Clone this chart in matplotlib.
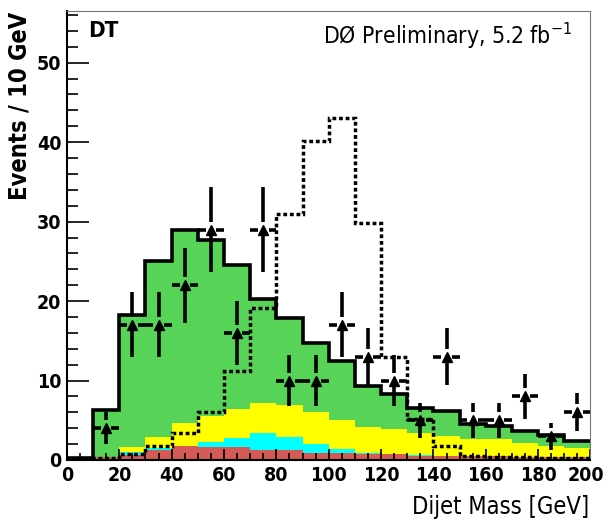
import matplotlib
matplotlib.use("Agg")
import matplotlib.pyplot as plt
import matplotlib.transforms as mtransforms
import numpy as np

plt.rcParams['font.family'] = ['DejaVu Sans']
plt.rcParams['font.stretch'] = 'condensed'

# bin edges, 10 GeV wide
edges = np.arange(0, 210, 10)

# stacked backgrounds (cumulative tops)
total  = [0.2, 6.3, 18.2, 25.0, 28.9, 27.7, 24.5, 20.3, 17.9, 14.7,
          12.4, 9.3, 8.3, 6.6, 6.2, 4.5, 4.3, 3.6, 3.1, 2.4]
yellow = [0.0, 0.3, 1.6, 2.9, 4.6, 5.5, 6.4, 7.2, 6.9, 6.0,
          5.0, 4.2, 3.9, 3.4, 3.0, 2.6, 2.6, 2.1, 1.8, 1.5]
cyan   = [0.0, 0.4, 1.05, 1.5, 1.8, 2.3, 2.8, 3.4, 2.9, 2.0,
          1.35, 0.85, 0.7, 0.6, 0.5, 0.45, 0.45, 0.4, 0.4, 0.4]
red    = [0.0, 0.4, 0.6, 1.3, 1.7, 1.6, 1.6, 1.25, 1.2, 0.9,
          0.85, 0.8, 0.7, 0.55, 0.5, 0.45, 0.45, 0.4, 0.4, 0.4]

# signal (dotted)
signal = [0.0, 0.3, 0.75, 1.7, 3.4, 6.1, 11.2, 19.1, 31.0, 40.1,
          43.1, 29.8, 13.0, 5.1, 1.8, 0.5, 0.4, 0.4, 0.3, 0.3]

# data points
data_x = [15, 25, 35, 45, 55, 65, 75, 85, 95, 105,
          115, 125, 135, 145, 155, 165, 175, 185, 195]
data_y = [4, 17, 17, 22, 29, 16, 29, 10, 10, 17,
          13, 10, 5, 13, 5, 5, 8, 3, 6]
data_err = [2.0, 4.1, 4.1, 4.7, 5.4, 4.0, 5.4, 3.2, 3.2, 4.1,
            3.6, 3.2, 2.2, 3.6, 2.2, 2.2, 2.8, 1.7, 2.4]

fig = plt.figure(figsize=(6.05, 5.26), dpi=100)
ax = fig.add_axes([0.1107, 0.1255, 0.8653, 0.8535])

ax.stairs(total, edges, baseline=0, fill=True, color="#57d357", lw=0)
ax.stairs(yellow, edges, baseline=0, fill=True, color="#ffff00", lw=0)
ax.stairs(cyan, edges, baseline=0, fill=True, color="#00ffff", lw=0)
ax.stairs(red, edges, baseline=0, fill=True, color="#d35a55", lw=0)
ax.stairs(total, edges, baseline=None, color="black", lw=2.6)
ax.stairs(signal, edges, baseline=None, color="black", lw=2.5,
          linestyle=(0, (1.1, 0.8)))

# data with gapped error bars
dx = np.array(data_x, dtype=float)
dy = np.array(data_y, dtype=float)
de = np.array(data_err)
gx, gy = 2.0, 1.0
ax.hlines(dy, dx - 5, dx - gx, color="black", lw=2.6)
ax.hlines(dy, dx + gx, dx + 5, color="black", lw=2.6)
ax.vlines(dx, dy + gy, dy + de, color="black", lw=2.6)
ax.vlines(dx, dy - de, dy - 0.3, color="black", lw=2.6)
ax.plot(dx, dy, "k^", ms=6.5, zorder=5)

ax.set_xlim(0, 200)
ax.set_ylim(0, 56.5)
ax.set_xticks(np.arange(0, 201, 20))
ax.set_xticks(np.arange(0, 201, 5), minor=True)
ax.set_yticks(np.arange(0, 51, 10))
ax.set_yticks(np.arange(0, 57, 2), minor=True)
ax.tick_params(which="both", direction="in", top=False, right=False, width=1.2)
ax.tick_params(axis="x", which="major", length=8, labelsize=14, pad=4)
ax.tick_params(axis="x", which="minor", length=5)
ax.tick_params(axis="y", which="major", length=16, labelsize=14, pad=4)
ax.tick_params(axis="y", which="minor", length=8)
for lab in ax.get_xticklabels() + ax.get_yticklabels():
    lab.set_fontweight("bold")
# keep the last x label inside the canvas
last = ax.xaxis.get_major_ticks()[-1].label1
last.set_transform(last.get_transform() + mtransforms.ScaledTranslation(-5 / 100, 0, fig.dpi_scale_trans))

ax.spines["left"].set_linewidth(1.5)
ax.spines["bottom"].set_linewidth(1.5)
ax.spines["top"].set_color("#777777")
ax.spines["right"].set_color("#777777")

ax.set_xlabel("Dijet Mass [GeV]", fontsize=17, ha="right", va="top")
ax.xaxis.set_label_coords(0.997, -0.078)
ax.set_ylabel("Events / 10 GeV", fontsize=17, fontweight="bold", ha="right")
ax.yaxis.set_label_coords(-0.067, 0.998)

ax.text(0.04, 0.978, "DT", transform=ax.transAxes, fontsize=16,
        fontweight="bold", va="top", ha="left")
ax.text(0.965, 0.978, r"DØ Preliminary, 5.2 fb$^{\mathregular{-1}}$", transform=ax.transAxes,
        fontsize=16.5, va="top", ha="right")

fig.savefig("out.png", dpi=100)
